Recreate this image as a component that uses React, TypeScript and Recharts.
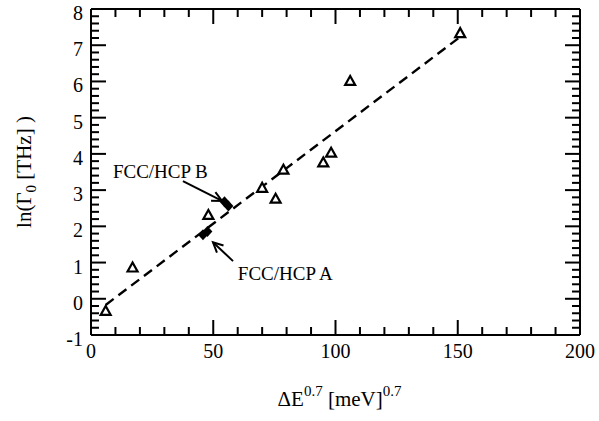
import { ScatterChart, Scatter, XAxis, YAxis, ReferenceLine, ReferenceDot } from 'recharts'

// measured points (open triangles)
const triX = [6, 17, 48, 70, 75.5, 78.7, 95, 98.2, 106, 151]
const triY = [-0.35, 0.85, 2.3, 3.05, 2.75, 3.55, 3.75, 4.02, 6.0, 7.32]

// FCC/HCP points (filled diamonds)
const diaX = [45.8, 47.6, 54.6, 56.2]
const diaY = [1.77, 1.86, 2.68, 2.56]

// linear fit, end points
const fitX = [6, 150.8]
const fitY = [-0.17, 7.22]

const xTicks = [0, 50, 100, 150, 200]
const yTicks = [-1, 0, 1, 2, 3, 4, 5, 6, 7, 8]
// major + minor tick positions (minor every 10 / 0.2)
const xAll = Array.from({ length: 21 }, (_, i) => i * 10)
const yAll = Array.from({ length: 46 }, (_, i) => Math.round((-1 + i * 0.2) * 10) / 10)

// annotations: label position + arrow (tail -> head)
const annLabels = [
  { text: 'FCC/HCP B', x: 9, y: 3.33 },
  { text: 'FCC/HCP A', x: 60.1, y: 0.51 },
]
const annArrows = [
  { x1: 37.6, y1: 3.25, x2: 53.6, y2: 2.7 },
  { x1: 58.1, y1: 1.04, x2: 49.9, y2: 1.56 },
]

const tri = triX.map((x, i) => ({ x, y: triY[i] }))
const dia = diaX.map((x, i) => ({ x, y: diaY[i] }))
const fit = fitX.map((x, i) => ({ x, y: fitY[i] }))

const FONT = '"Liberation Serif", "Times New Roman", serif'
const axisLine = { stroke: '#000', strokeWidth: 2 }
const txt = { fontFamily: FONT, fontSize: 20, fill: '#000' }

// draws inward tick marks (long for majors) and the major labels
function FrameTick(props: any) {
  const { x, y, payload, side, majors, labels } = props
  if (!payload) return null
  const v = payload.value
  const c = payload.coordinate
  const major = majors.includes(v)
  const len = major ? 15 : 8
  let line
  let label = null
  if (side === 'bottom') {
    line = <line x1={c} y1={y} x2={c} y2={y - len} />
    if (major && labels) label = <text x={c} y={y + 23} textAnchor="middle" style={txt}>{v}</text>
  } else if (side === 'top') {
    line = <line x1={c} y1={y} x2={c} y2={y + len} />
  } else if (side === 'left') {
    line = <line x1={x} y1={c} x2={x + len} y2={c} />
    if (major && labels) label = <text x={x - 8} y={c + 11} textAnchor="end" style={txt}>{v}</text>
  } else {
    line = <line x1={x} y1={c} x2={x - len} y2={c} />
  }
  return (
    <g>
      <g stroke="#000" strokeWidth={2}>{line}</g>
      {label}
    </g>
  )
}

function Triangle(props: any) {
  const { cx, cy } = props
  if (cx == null || cy == null) return null
  return (
    <polygon
      points={`${cx},${cy - 5.5} ${cx - 5},${cy + 3.5} ${cx + 5},${cy + 3.5}`}
      fill="#fff" stroke="#000" strokeWidth={2.2}
    />
  )
}

function Diamond(props: any) {
  const { cx, cy } = props
  if (cx == null || cy == null) return null
  return <polygon points={`${cx},${cy - 5.5} ${cx + 5},${cy} ${cx},${cy + 5.5} ${cx - 5},${cy}`} fill="#000" />
}

function Arrow(props: any) {
  const { x1, y1, x2, y2 } = props
  const a = Math.atan2(y2 - y1, x2 - x1)
  const L = 11, s = 0.45
  const h1 = `${x2 - L * Math.cos(a - s)},${y2 - L * Math.sin(a - s)}`
  const h2 = `${x2 - L * Math.cos(a + s)},${y2 - L * Math.sin(a + s)}`
  return (
    <g stroke="#000" strokeWidth={2} fill="none">
      <line x1={x1} y1={y1} x2={x2} y2={y2} />
      <polyline points={`${h1} ${x2},${y2} ${h2}`} />
    </g>
  )
}

function AnnText(props: any) {
  const { viewBox, text } = props
  if (!viewBox) return null
  return (
    <text x={viewBox.x} y={viewBox.y} style={{ ...txt, fontSize: 19 }}>{text}</text>
  )
}

function YLabel(props: any) {
  const { viewBox } = props
  if (!viewBox) return null
  const x = viewBox.x + 31
  const y = viewBox.y + viewBox.height / 2
  return (
    <text x={x} y={y} transform={`rotate(-90, ${x}, ${y})`} textAnchor="middle" style={{ ...txt, fontSize: 21 }}>
      ln(Γ<tspan dy={5} fontSize={15}>0</tspan><tspan dy={-5}> [THz] )</tspan>
    </text>
  )
}

function XLabel(props: any) {
  const { viewBox } = props
  if (!viewBox) return null
  const x = viewBox.x + viewBox.width / 2 + 4
  const y = viewBox.y + 71
  return (
    <text x={x} y={y} textAnchor="middle" style={{ ...txt, fontSize: 21 }}>
      ΔE<tspan dy={-10} fontSize={15}>0.7</tspan><tspan dy={10}> [meV]</tspan><tspan dy={-10} fontSize={15}>0.7</tspan>
    </text>
  )
}

export default function App() {
  return (
    <div style={{ position: 'absolute', left: 0, top: 0, width: 599, height: 421, background: '#fff', fontFamily: FONT }}>
      <ScatterChart width={599} height={421} margin={{ top: 8, right: 18, bottom: 0, left: 0 }}>
        <XAxis xAxisId="x" type="number" dataKey="x" domain={[0, 200]} ticks={xAll} height={86} interval={0}
          axisLine={axisLine} tickLine={false} tickSize={0} tickMargin={0}
          tick={<FrameTick side="bottom" majors={xTicks} labels />}
          label={<XLabel />} allowDataOverflow />
        <XAxis xAxisId="xt" orientation="top" type="number" dataKey="x" domain={[0, 200]} ticks={xAll} height={1} interval={0}
          axisLine={axisLine} tickLine={false} tickSize={0} tickMargin={0}
          tick={<FrameTick side="top" majors={xTicks} />} allowDataOverflow />

        <YAxis yAxisId="y" type="number" dataKey="y" domain={[-1, 8]} ticks={yAll} width={91} interval={0}
          axisLine={axisLine} tickLine={false} tickSize={0} tickMargin={0}
          tick={<FrameTick side="left" majors={yTicks} labels />}
          label={<YLabel />} allowDataOverflow />
        <YAxis yAxisId="yr" orientation="right" type="number" dataKey="y" domain={[-1, 8]} ticks={yAll} width={1} interval={0}
          axisLine={axisLine} tickLine={false} tickSize={0} tickMargin={0}
          tick={<FrameTick side="right" majors={yTicks} />} allowDataOverflow />

        <Scatter xAxisId="x" yAxisId="y" data={fit} isAnimationActive={false}
          stroke="#000" strokeWidth={2.4} strokeDasharray="10 6"
          line={{ stroke: '#000', strokeWidth: 2.4, strokeDasharray: '10 6' }} shape={() => <g />} />
        <Scatter xAxisId="x" yAxisId="y" data={tri} isAnimationActive={false} shape={<Triangle />} />
        <Scatter xAxisId="x" yAxisId="y" data={dia} isAnimationActive={false} shape={<Diamond />} />

        {annArrows.map((a, i) => (
          <ReferenceLine key={'a' + i} xAxisId="x" yAxisId="y" ifOverflow="visible"
            segment={[{ x: a.x1, y: a.y1 }, { x: a.x2, y: a.y2 }]} shape={<Arrow />} />
        ))}
        {annLabels.map((l, i) => (
          <ReferenceDot key={'l' + i} xAxisId="x" yAxisId="y" x={l.x} y={l.y} r={0.1} fill="none" stroke="none"
            ifOverflow="visible" label={<AnnText text={l.text} />} />
        ))}
      </ScatterChart>
    </div>
  )
}
